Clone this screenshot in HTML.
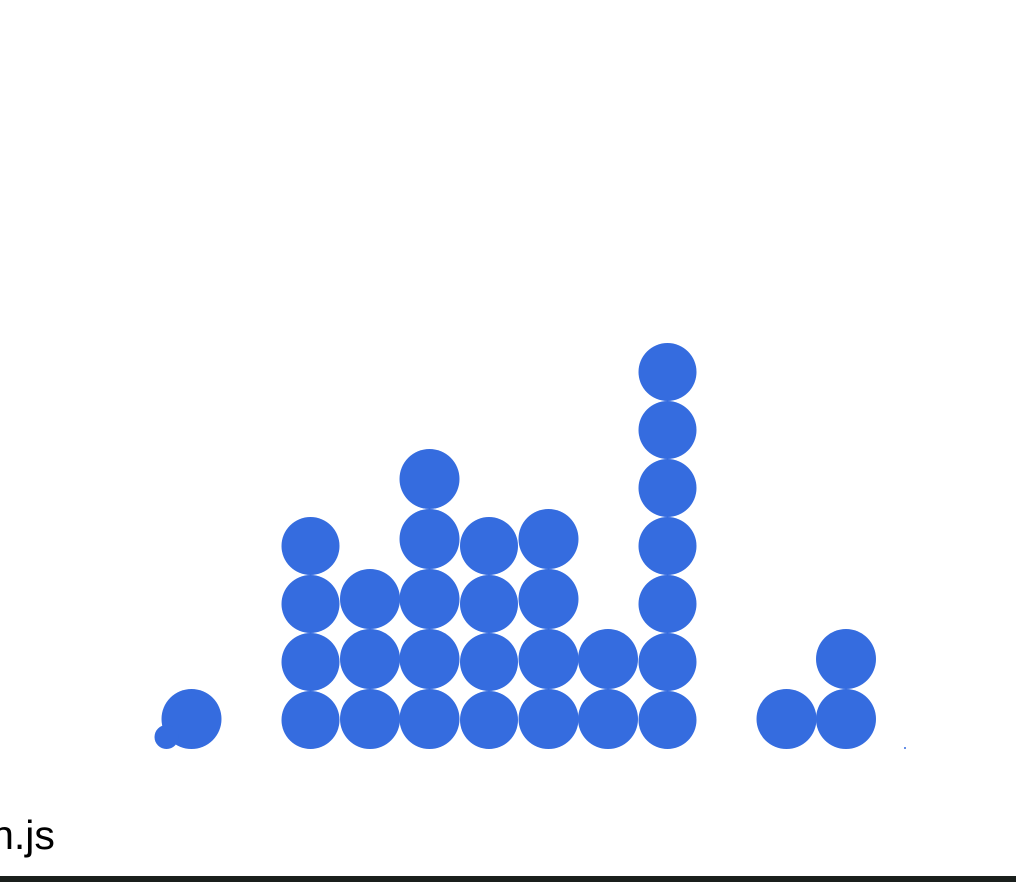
<!DOCTYPE html>
<html><head><meta charset="utf-8">
<style>
html,body{margin:0;padding:0;background:#fff;width:1016px;height:882px;overflow:hidden;font-family:"Liberation Sans",sans-serif}
#labelbox{position:absolute;left:0;top:812px;width:200px;height:60px;overflow:hidden}
#label{position:absolute;left:-75px;top:0;font-size:41px;color:#000;white-space:nowrap}
#strip{position:absolute;left:0;top:876px;width:1016px;height:6px;background:#1a1f1c}
</style></head><body>
<svg id="chart" width="1016" height="882" style="position:absolute;left:0;top:0"></svg>
<div id="labelbox"><span id="label">main.js</span></div>
<div id="strip"></div>
<script>
const bins = [0, 2, 3, 4, 5, 6, 7, 8, 10, 11];
const counts = [1, 4, 3, 5, 4, 4, 2, 7, 1, 2];
const radii = [30, 29, 30, 30, 29, 30, 30, 29, 30, 30];
const extraBin = [-0.42];
const extraRadius = [12];
const tinyBin = [12];

const x = b => 191.5 + b * 59.5;
const baseY = 749;
const svg = document.getElementById('chart');
const NS = 'http://www.w3.org/2000/svg';
function dot(cx, cy, r, name) {
  const c = document.createElementNS(NS, 'circle');
  c.setAttribute('cx', cx); c.setAttribute('cy', cy); c.setAttribute('r', r);
  c.setAttribute('fill', '#356cdf');
  
  
  svg.appendChild(c);
}
bins.forEach((b, i) => {
  const r = radii[i];
  for (let k = 0; k < counts[i]; k++) {
    dot(x(b), baseY - r - k * 2 * r, r, 'dot-bin-' + b + '-' + k);
  }
});
extraBin.forEach((b, i) => dot(x(b), baseY - extraRadius[i], extraRadius[i], 'small-dot'));
tinyBin.forEach(b => dot(x(b) - 0.5, 748, 1, 'tiny-dot'));
</script>
</body></html>
